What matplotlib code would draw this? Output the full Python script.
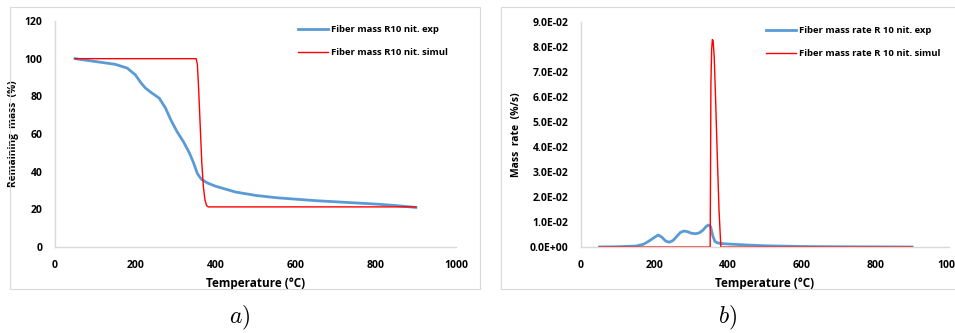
import numpy as np
import matplotlib
matplotlib.use('Agg')
import matplotlib.pyplot as plt
from matplotlib.patches import Rectangle

plt.rcParams['font.family'] = ['Open Sans', 'DejaVu Sans']
plt.rcParams['mathtext.fontset'] = 'cm'

# a) remaining mass
t_exp = [50, 100, 150, 180, 200, 215, 225, 240, 260, 275, 290, 305, 320, 335, 345, 355, 365, 380,
         400, 450, 500, 550, 600, 650, 700, 750, 800, 850, 900]
mass_exp = [100, 98.5, 97, 95, 91.5, 87, 84.5, 82, 79, 74, 67, 61, 56, 50, 45, 39, 36, 34,
            32.3, 29.2, 27.4, 26.2, 25.4, 24.6, 24, 23.4, 22.8, 22, 21]
t_sim = [50, 352, 355, 358, 362, 366, 370, 374, 378, 382, 900]
mass_sim = [100, 100, 97, 85, 65, 45, 32, 25, 22, 21.3, 21.3]

# b) mass rate
t_rate = [50, 100, 150, 170, 185, 200, 210, 220, 230, 240, 250, 260, 270, 280, 290, 300, 312,
          322, 332, 340, 346, 352, 358, 364, 372, 380, 400, 450, 500, 600, 700, 800, 900]
rate_exp = [0, 0.0001, 0.0004, 0.0011, 0.0024, 0.0039, 0.0048, 0.0039, 0.0024, 0.0019, 0.0026,
            0.0042, 0.0058, 0.0064, 0.0061, 0.0055, 0.0053, 0.0057, 0.0068, 0.0082, 0.0088,
            0.0082, 0.0045, 0.0022, 0.0016, 0.0014, 0.0012, 0.0008, 0.0005, 0.0002, 0.0001,
            0.00005, 0]
t_rate_sim = [50, 351, 352, 353, 355, 357, 359, 362, 366, 370, 375, 380, 900]
rate_sim = [0, 0, 0.03, 0.065, 0.079, 0.083, 0.0825, 0.076, 0.058, 0.038, 0.015, 0, 0]
rate_ticks = [0, 0.01, 0.02, 0.03, 0.04, 0.05, 0.06, 0.07, 0.08, 0.09]

blue = '#5B9BD5'
red = '#FF0000'
grey = '#D9D9D9'
tick_fs = 7.5

fig = plt.figure(figsize=(9.55, 3.33), dpi=100)

# chart area borders
fig.patches.append(Rectangle((10 / 955, 1 - 289 / 333), 470 / 955, 282 / 333,
                             transform=fig.transFigure, fill=False, edgecolor=grey, lw=0.8))
fig.patches.append(Rectangle((501 / 955, 1 - 289 / 333), 460 / 955, 282 / 333,
                             transform=fig.transFigure, fill=False, edgecolor=grey, lw=0.8))

ax1 = fig.add_axes([55 / 955, 1 - 247 / 333, 401 / 955, 226 / 333])
ax2 = fig.add_axes([581 / 955, 1 - 247 / 333, 368 / 955, 225 / 333])

ax1.plot(t_exp, mass_exp, color=blue, lw=2, label='Fiber mass R10 nit. exp')
ax1.plot(t_sim, mass_sim, color=red, lw=1, label='Fiber mass R10 nit. simul')
ax1.set_xlim(0, 1000)
ax1.set_ylim(0, 120)
ax1.set_xticks(np.arange(0, 1001, 200))
ax1.set_yticks(np.arange(0, 121, 20))
ax1.set_ylabel('Remaining  mass  (%)', fontsize=7.3, fontweight='bold')
ax1.yaxis.set_label_coords(-0.09, 0.5)

ax2.plot(t_rate, rate_exp, color=blue, lw=2, label='Fiber mass rate R 10 nit. exp')
ax2.plot(t_rate_sim, rate_sim, color=red, lw=1, label='Fiber mass rate R 10 nit. simul')
ax2.set_xlim(0, 1000)
ax2.set_ylim(0, 0.09)
ax2.set_xticks(np.arange(0, 1001, 200))
ax2.set_yticks(rate_ticks)
ax2.set_yticklabels([f'{v:.1E}' for v in rate_ticks])
ax2.set_ylabel('Mass  rate  (%/s)', fontsize=7.5, fontweight='bold')
ax2.yaxis.set_label_coords(-0.16, 0.5)

for ax in (ax1, ax2):
    for s in ('top', 'right'):
        ax.spines[s].set_visible(False)
    for s in ('left', 'bottom'):
        ax.spines[s].set_color(grey)
        ax.spines[s].set_linewidth(1)
    ax.tick_params(length=0, labelsize=tick_fs, pad=9)
    for lab in ax.get_xticklabels() + ax.get_yticklabels():
        lab.set_fontweight('bold')
    ax.set_xlabel('Temperature (°C)', fontsize=8.5, fontweight='bold', labelpad=5)
    leg = ax.legend(loc='upper right', bbox_to_anchor=(1.0, 1.02), frameon=False,
                    fontsize=6.8, handlelength=3.2, handletextpad=0.3, labelspacing=1.5)
    for t in leg.get_texts():
        t.set_fontweight('bold')

fig.text(240 / 955, 1 - 318 / 333, r'$a)$', fontsize=17, ha='center', va='center')
fig.text(728 / 955, 1 - 318 / 333, r'$b)$', fontsize=17, ha='center', va='center')

fig.savefig('out.png', dpi=100)
